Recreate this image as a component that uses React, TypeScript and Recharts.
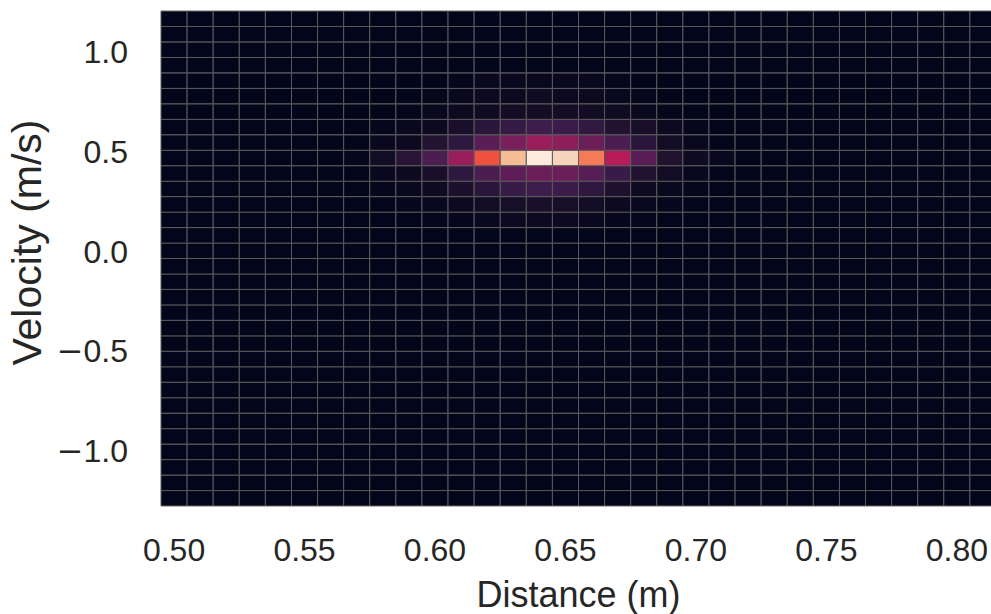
import { ScatterChart, Scatter, XAxis, YAxis, ReferenceArea } from "recharts"

// bin centres of the 32 x 32 histogram
const distanceBins = [
  0.5, 0.51, 0.52, 0.53, 0.54, 0.55, 0.56, 0.57, 0.58, 0.59, 0.6, 0.61, 0.62, 0.63, 0.64, 0.65,
  0.66, 0.67, 0.68, 0.69, 0.7, 0.71, 0.72, 0.73, 0.74, 0.75, 0.76, 0.77, 0.78, 0.79, 0.8, 0.81,
]
const velocityBins = [
  -1.237, -1.16, -1.082, -1.005, -0.927, -0.85, -0.772, -0.695, -0.617, -0.54, -0.462, -0.385,
  -0.307, -0.23, -0.152, -0.075, 0.003, 0.08, 0.158, 0.235, 0.313, 0.39, 0.468, 0.545, 0.623,
  0.7, 0.778, 0.855, 0.933, 1.01, 1.088, 1.165,
]
const DIST_STEP = 0.01
const VEL_STEP = 0.0775

const distanceTicks = [0.5, 0.55, 0.6, 0.65, 0.7, 0.75, 0.8]
const velocityTicks = [-1, -0.5, 0, 0.5, 1]

// normalised counts around the peak, everything outside is ~0
const windowDistances = [0.56, 0.57, 0.58, 0.59, 0.6, 0.61, 0.62, 0.63, 0.64, 0.65, 0.66, 0.67, 0.68, 0.69, 0.7, 0.71, 0.72]
const windowVelocities = [0.855, 0.778, 0.7, 0.623, 0.545, 0.468, 0.39, 0.313, 0.235, 0.158]
const windowDensity = [
  [0, 0, 0, 0, 0, 0.01, 0.02, 0.02, 0.02, 0.02, 0.02, 0.01, 0, 0, 0, 0, 0],
  [0, 0, 0, 0, 0.01, 0.02, 0.03, 0.03, 0.04, 0.03, 0.03, 0.02, 0.01, 0, 0, 0, 0],
  [0, 0, 0, 0.01, 0.02, 0.03, 0.04, 0.06, 0.06, 0.06, 0.05, 0.04, 0.02, 0.01, 0, 0, 0],
  [0, 0, 0.01, 0.02, 0.03, 0.08, 0.14, 0.19, 0.22, 0.21, 0.17, 0.11, 0.08, 0.03, 0.01, 0, 0],
  [0, 0, 0.02, 0.03, 0.12, 0.16, 0.3, 0.37, 0.44, 0.41, 0.34, 0.26, 0.14, 0.05, 0.02, 0, 0],
  [0, 0.01, 0.05, 0.13, 0.26, 0.44, 0.68, 0.89, 1.0, 0.94, 0.76, 0.5, 0.3, 0.11, 0.04, 0.02, 0],
  [0, 0, 0.02, 0.03, 0.08, 0.16, 0.26, 0.31, 0.34, 0.34, 0.29, 0.2, 0.11, 0.05, 0.02, 0, 0],
  [0, 0, 0.01, 0.02, 0.04, 0.09, 0.14, 0.2, 0.22, 0.21, 0.16, 0.1, 0.04, 0.02, 0.01, 0, 0],
  [0, 0, 0, 0.01, 0.02, 0.03, 0.05, 0.07, 0.08, 0.07, 0.05, 0.03, 0.02, 0.01, 0, 0, 0],
  [0, 0, 0, 0, 0.01, 0.01, 0.02, 0.03, 0.03, 0.03, 0.02, 0.01, 0.01, 0, 0, 0, 0],
]

// rocket-like colour map
const ROCKET: [number, string][] = [
  [0, "#03051a"],
  [0.05, "#120c24"],
  [0.11, "#221230"],
  [0.16, "#2e1840"],
  [0.22, "#3e1c4c"],
  [0.3, "#5a1d56"],
  [0.37, "#7a1f5c"],
  [0.44, "#9a1d5c"],
  [0.5, "#b81c58"],
  [0.6, "#de2c47"],
  [0.68, "#f05040"],
  [0.76, "#f47a58"],
  [0.89, "#f6bc96"],
  [0.94, "#f8d3bb"],
  [1, "#fcebdd"],
]

function hex(c: string) {
  return [1, 3, 5].map((i) => parseInt(c.slice(i, i + 2), 16))
}

function rocket(t: number) {
  for (let i = 1; i < ROCKET.length; i++) {
    const [t1, c1] = ROCKET[i]
    if (t <= t1) {
      const [t0, c0] = ROCKET[i - 1]
      const f = (t - t0) / (t1 - t0)
      const a = hex(c0)
      const b = hex(c1)
      const rgb = a.map((v, k) => Math.round(v + (b[k] - v) * f))
      return `rgb(${rgb.join(",")})`
    }
  }
  return ROCKET[ROCKET.length - 1][1]
}

function density(d: number, v: number) {
  const i = windowVelocities.findIndex((w) => Math.abs(w - v) < 1e-6)
  const j = windowDistances.findIndex((w) => Math.abs(w - d) < 1e-6)
  if (i < 0 || j < 0) return 0
  return windowDensity[i][j]
}

const cells = velocityBins.flatMap((v) =>
  distanceBins.map((d) => ({ x: d, y: v, value: density(d, v) }))
)

const font = "'Liberation Sans', Arial, sans-serif"
const ink = "#262626"

// matplotlib draws the minus sign with DejaVu Sans, which is wider
function VelocityTick(props: any) {
  const { x, y, payload } = props
  const v: number = payload.value
  const s = Math.abs(v).toFixed(1)
  return (
    <text x={x} y={y} dy="0.355em" textAnchor="end" fontSize={32} fill={ink} fontFamily={font}>
      {v < 0 && <tspan fontFamily="'DejaVu Sans'">{"\u2212"}</tspan>}
      {s}
    </text>
  )
}

export default function App() {
  return (
    <div style={{ width: 991, height: 614, overflow: "hidden" }}>
      <style>{"body{margin:0;overflow:hidden}"}</style>
      <ScatterChart width={1000} height={614} margin={{ top: 11, right: 4, bottom: 0, left: 0 }}>
        <XAxis
          type="number"
          dataKey="x"
          domain={[0.495, 0.815]}
          allowDataOverflow
          ticks={distanceTicks}
          tickFormatter={(t: number) => t.toFixed(2)}
          axisLine={false}
          tickLine={false}
          tickSize={0}
          tickMargin={32}
          height={108}
          tick={{ fontSize: 32, fill: ink, fontFamily: font }}
          label={{ value: "Distance (m)", position: "insideBottom", offset: 7, fontSize: 36, fill: ink, fontFamily: font }}
        />
        <YAxis
          type="number"
          dataKey="y"
          domain={[-1.276, 1.204]}
          allowDataOverflow
          ticks={velocityTicks}
          axisLine={false}
          tickLine={false}
          tickSize={0}
          tickMargin={33}
          width={161}
          tick={<VelocityTick />}
          label={{ value: "Velocity (m/s)", angle: -90, position: "center", dx: -54, dy: -16, fontSize: 41, fill: ink, fontFamily: font }}
        />
        {cells.map((c) => (
          <ReferenceArea
            key={`${c.x}-${c.y}`}
            x1={c.x - DIST_STEP / 2}
            x2={c.x + DIST_STEP / 2}
            y1={c.y - VEL_STEP / 2}
            y2={c.y + VEL_STEP / 2}
            fill={rocket(c.value)}
            fillOpacity={1}
            stroke="#5a5a5a"
            strokeWidth={1}
            ifOverflow="visible"
          />
        ))}
        <Scatter data={cells} isAnimationActive={false} shape={() => <g />} />
      </ScatterChart>
    </div>
  )
}
